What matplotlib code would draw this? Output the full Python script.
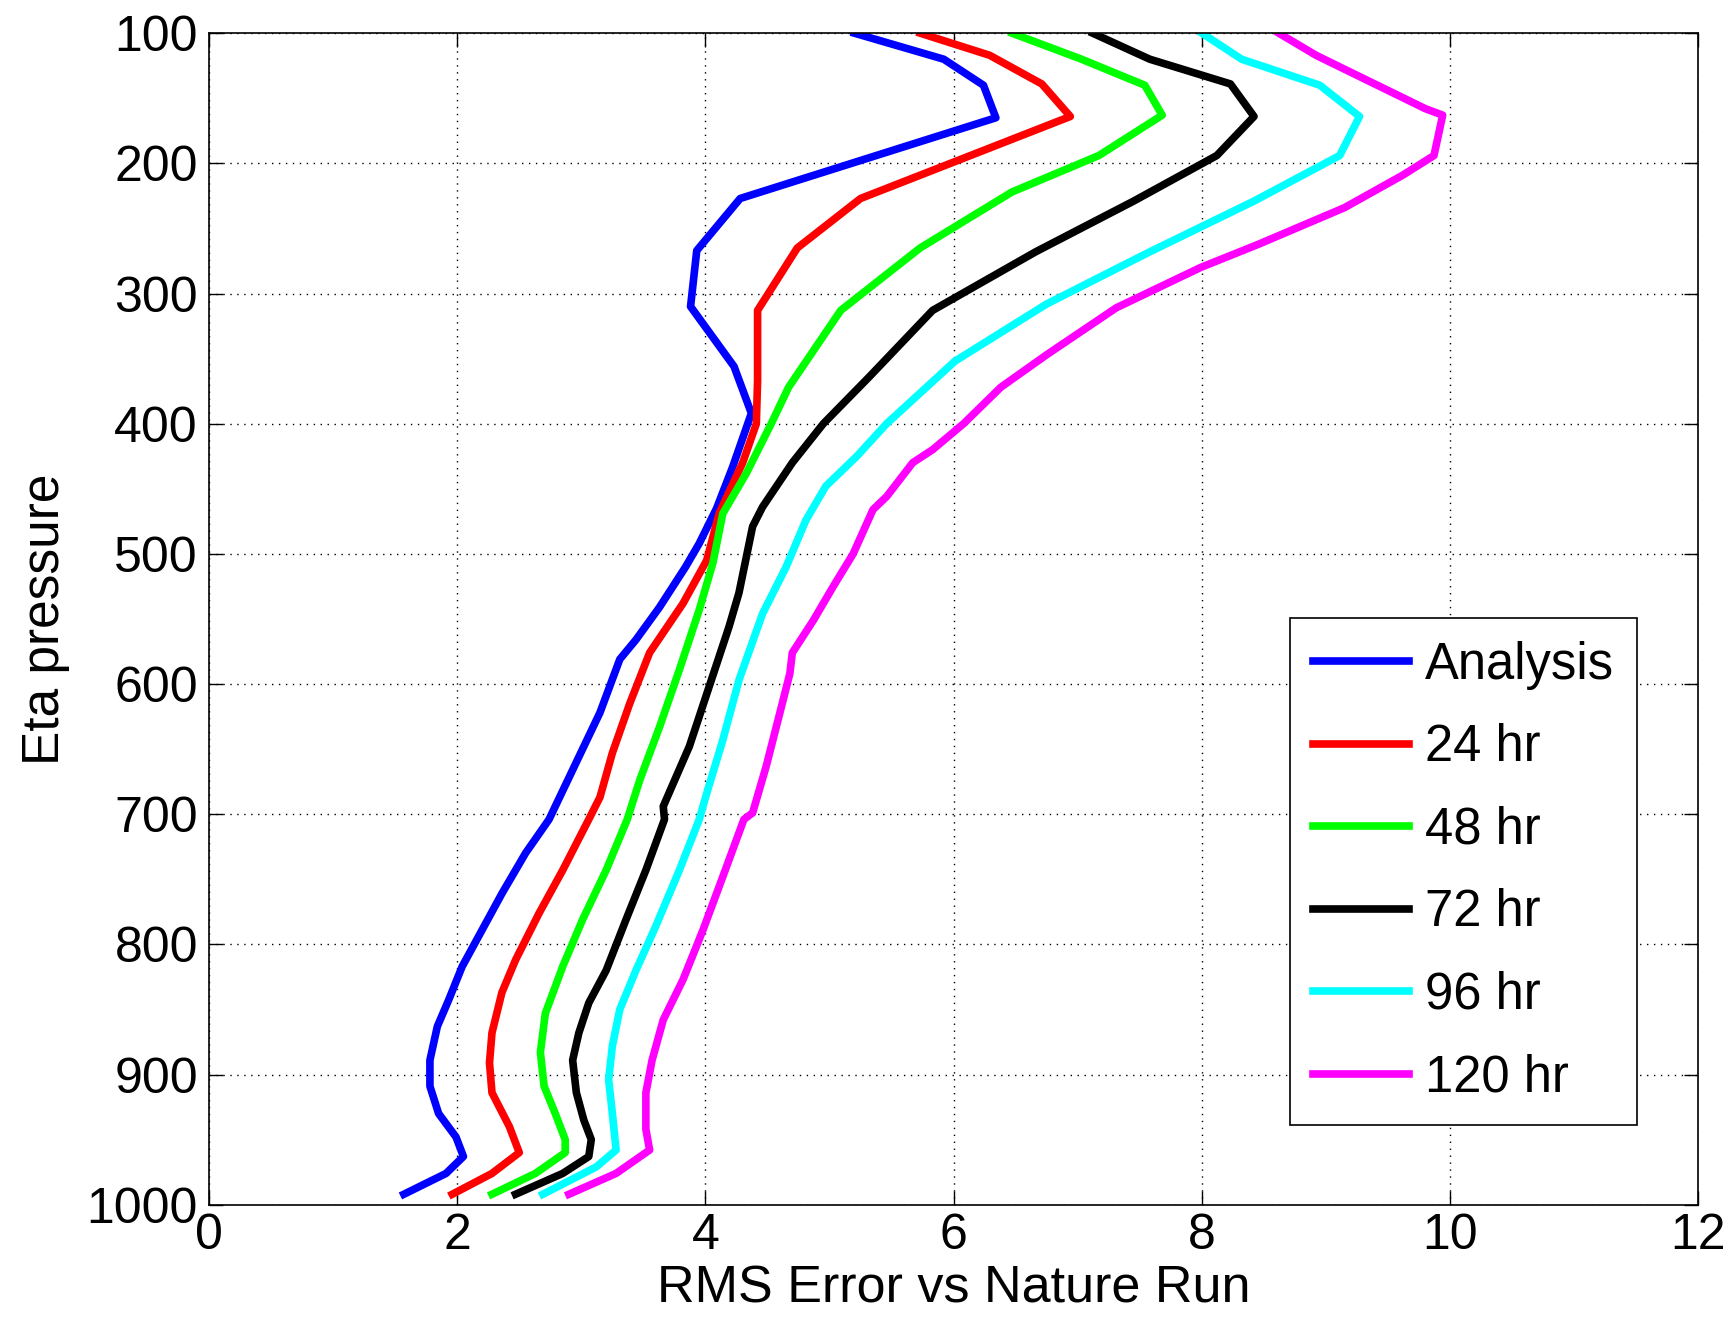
import matplotlib
matplotlib.use('Agg')
from matplotlib import pyplot as plt
import numpy as np

plt.rcParams['font.family'] = ['Liberation Sans', 'DejaVu Sans']

# RMS error profiles (value, pressure)
p_analysis = [100, 120, 140, 165, 227, 267, 310, 356, 392, 433, 465, 492, 510, 541, 566, 581, 622,
              704, 730, 761, 789, 817, 843, 863, 889, 909, 930, 948, 963, 976, 992]
analysis = [5.2, 5.92, 6.24, 6.34, 4.28, 3.93, 3.88, 4.23, 4.37, 4.22, 4.09, 3.95, 3.84, 3.63, 3.44, 3.31, 3.15,
            2.74, 2.55, 2.36, 2.20, 2.04, 1.93, 1.84, 1.78, 1.78, 1.85, 1.99, 2.05, 1.91, 1.57]

p_24 = [100, 117, 139, 164, 227, 265, 313, 367, 400, 430, 469, 505, 538, 576, 615, 653, 687,
        704, 743, 776, 812, 837, 868, 891, 914, 940, 960, 976, 992]
hr24 = [5.73, 6.29, 6.71, 6.94, 5.25, 4.74, 4.42, 4.42, 4.41, 4.30, 4.11, 4.01, 3.82, 3.55, 3.39, 3.25, 3.15,
        3.06, 2.85, 2.66, 2.47, 2.36, 2.28, 2.26, 2.28, 2.42, 2.50, 2.28, 1.96]

p_48 = [100, 120, 140, 163, 194, 222, 265, 313, 372, 400, 438, 469, 507, 543, 589, 633, 674,
        704, 743, 781, 817, 853, 883, 909, 930, 950, 960, 976, 992]
hr48 = [6.47, 7.03, 7.54, 7.68, 7.17, 6.47, 5.73, 5.09, 4.67, 4.53, 4.33, 4.14, 4.06, 3.95, 3.79, 3.63, 3.47,
        3.37, 3.20, 3.01, 2.85, 2.71, 2.67, 2.70, 2.79, 2.87, 2.87, 2.63, 2.28]

p_72 = [100, 120, 139, 164, 194, 229, 268, 313, 364, 400, 430, 464, 479, 530, 556, 602, 648, 694,
        704, 743, 781, 820, 845, 868, 889, 914, 935, 950, 963, 976, 992]
hr72 = [7.12, 7.58, 8.23, 8.42, 8.12, 7.45, 6.66, 5.83, 5.32, 4.95, 4.70, 4.46, 4.38, 4.27, 4.19, 4.03, 3.87, 3.66,
        3.67, 3.52, 3.36, 3.20, 3.06, 2.98, 2.93, 2.96, 3.02, 3.08, 3.06, 2.85, 2.47]

p_96 = [100, 120, 140, 164, 194, 229, 268, 308, 352, 400, 425, 448, 474, 510, 546, 597, 643, 684,
        704, 743, 786, 820, 850, 878, 904, 930, 958, 971, 992]
hr96 = [8.0, 8.32, 8.95, 9.27, 9.11, 8.42, 7.58, 6.75, 6.01, 5.46, 5.22, 4.97, 4.81, 4.65, 4.46, 4.27, 4.14, 4.01,
        3.95, 3.79, 3.60, 3.44, 3.31, 3.25, 3.22, 3.25, 3.28, 3.12, 2.69]

p_120 = [100, 117, 158, 163, 194, 209, 234, 262, 280, 311, 347, 372, 400, 420, 430, 456, 466, 500, 525, 551,
         576, 592, 622, 663, 699, 704, 748, 789, 827, 858, 889, 914, 942, 958, 976, 992]
hr120 = [8.62, 8.92, 9.80, 9.94, 9.87, 9.62, 9.15, 8.46, 7.99, 7.31, 6.75, 6.38, 6.08, 5.83, 5.67, 5.46, 5.35,
         5.19, 5.03, 4.87, 4.70, 4.68, 4.60, 4.49, 4.38, 4.31, 4.14, 3.98, 3.82, 3.66, 3.57, 3.52, 3.52, 3.55,
         3.28, 2.90]

labels = ['Analysis', '24 hr', '48 hr', '72 hr', '96 hr', '120 hr']
colors = ['#0000ff', '#ff0000', '#00ff00', '#000000', '#00ffff', '#ff00ff']
series = [(analysis, p_analysis), (hr24, p_24), (hr48, p_48), (hr72, p_72), (hr96, p_96), (hr120, p_120)]

fig = plt.figure(figsize=(17.33, 13.43), dpi=100)
ax = fig.add_axes([0.1206, 0.103, 0.8594, 0.8723])

for (vals, pres), lab, c in zip(series, labels, colors):
    ax.plot(vals, pres, color=c, linewidth=5.5, label=lab)

ax.set_xlim(0, 12)
ax.set_ylim(1000, 100)
ax.set_xticks(np.arange(0, 13, 2))
ax.set_yticks(np.arange(100, 1001, 100))
ax.grid(True, linestyle=(0, (1, 4)), color='black', linewidth=1.0)
ax.tick_params(direction='in', length=10, width=1, labelsize=36, top=True, right=True)
ax.tick_params(axis='x', pad=6)
ax.tick_params(axis='y', pad=8)
for s in ax.spines.values():
    s.set_linewidth(1.2)

ax.set_xlabel('RMS Error vs Nature Run', fontsize=37.5, labelpad=4)
ax.set_ylabel('Eta pressure', fontsize=37, labelpad=12)

leg = ax.legend(loc='lower right', bbox_to_anchor=(0.9585, 0.0679), borderaxespad=0, fontsize=36.5,
                handlelength=1.9, handletextpad=0.3, labelspacing=0.66, borderpad=0.45, fancybox=False,
                framealpha=1, edgecolor='black')
leg.get_frame().set_linewidth(1.2)

fig.savefig('out.png', dpi=100)
